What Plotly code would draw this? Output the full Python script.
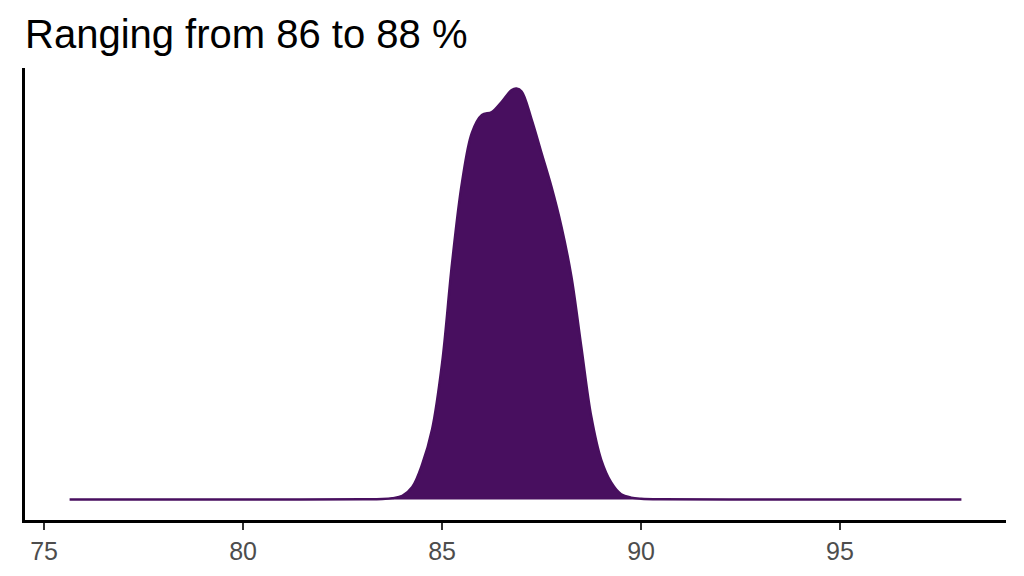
import plotly.graph_objects as go

title_text = "Ranging from 86 to 88 %"

# density curve
x_vals = [75.64, 78.0, 81.0, 83.0, 83.5, 83.75, 84.0, 84.25, 84.5, 84.75, 85.0, 85.25,
          85.5, 85.75, 86.0, 86.25, 86.5, 86.75, 86.87, 87.0, 87.25, 87.5, 87.75, 88.0,
          88.25, 88.5, 88.75, 89.0, 89.25, 89.5, 89.75, 90.0, 90.5, 93.0, 96.0, 98.05]
y_vals = [0.0, 0.0, 0.0, 0.0001, 0.0003, 0.0009, 0.0025, 0.0085, 0.024, 0.048, 0.093, 0.161,
          0.216, 0.250, 0.262, 0.264, 0.271, 0.279, 0.280, 0.278, 0.259, 0.236, 0.213, 0.186,
          0.152, 0.104, 0.0565, 0.027, 0.0116, 0.0036, 0.0013, 0.0005, 0.0001, 0.0, 0.0, 0.0]

tick_vals = [75, 80, 85, 90, 95]
tick_text = ["75", "80", "85", "90", "95"]

color = "#480F5F"

# the page body has an 8px margin; compensate so the plot lands where intended
OFF = 8
W, H = 1024, 576

fig = go.Figure()
fig.add_trace(go.Scatter(
    x=x_vals, y=y_vals, mode="lines", fill="tozeroy",
    line=dict(color=color, width=2.4, shape="spline", smoothing=1.0),
    fillcolor=color, hoverinfo="skip", showlegend=False,
))

xmin, xmax = min(x_vals), max(x_vals)
xr = xmax - xmin
ymax = max(y_vals)

fig.update_layout(
    width=W, height=H,
    margin=dict(l=25 - OFF, r=18 + OFF, t=68 - OFF, b=55.5 + OFF),
    paper_bgcolor="white", plot_bgcolor="white",
    font=dict(family="Liberation Sans, Arial, sans-serif"),
    title=dict(text=title_text, x=(25 - OFF) / W, xanchor="left", xref="container",
               y=1 - (34 - OFF) / H, yanchor="middle", yref="container",
               font=dict(size=40, color="black", family="Liberation Sans, Arial, sans-serif")),
    xaxis=dict(range=[xmin - 0.05 * xr, xmax + 0.05 * xr], tickvals=tick_vals, ticktext=tick_text,
               showgrid=False, zeroline=False, showline=True, linecolor="black", linewidth=2.5,
               ticks="outside", ticklen=7, tickwidth=2.2, tickcolor="#333333",
               tickfont=dict(size=25, color="#4D4D4D")),
    yaxis=dict(range=[-0.05 * ymax, 1.05 * ymax], showgrid=False, zeroline=False, showline=True,
               linecolor="black", linewidth=2.5, showticklabels=False, ticks=""),
)

fig.write_html("out.html")
